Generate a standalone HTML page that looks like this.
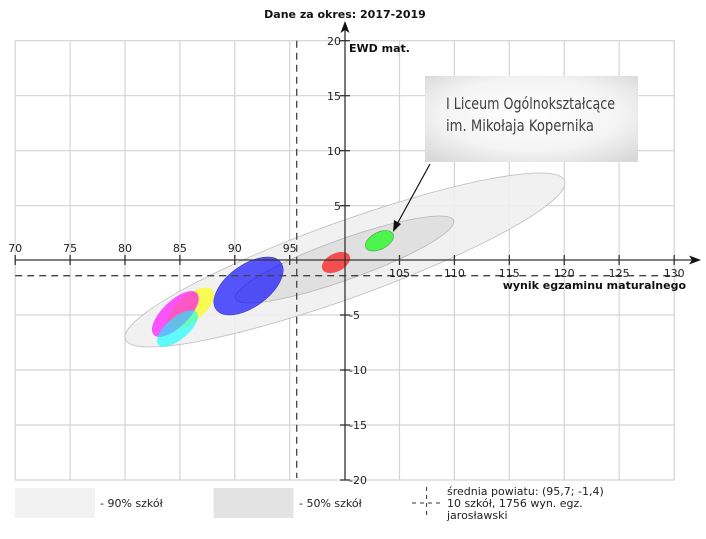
<!DOCTYPE html>
<html><head><meta charset="utf-8"><style>
html,body{margin:0;padding:0;background:#fff;width:706px;height:539px;overflow:hidden}
svg{display:block}
text{font-family:"DejaVu Sans","Liberation Sans",sans-serif}
</style></head><body>
<svg width="706" height="539" viewBox="0 0 706 539" xmlns="http://www.w3.org/2000/svg">
<defs>
<radialGradient id="bg" cx="50%" cy="45%" r="70%">
<stop offset="0" stop-color="#ffffff"/><stop offset="0.6" stop-color="#f4f4f4"/><stop offset="1" stop-color="#d8d8d8"/>
</radialGradient>
</defs>
<g stroke="#d4d4d4" stroke-width="1.2" fill="none">
<rect x="15.2" y="40.7" width="659" height="439.3"/>
<line x1="70.1" y1="40.7" x2="70.1" y2="480"/>
<line x1="125" y1="40.7" x2="125" y2="480"/>
<line x1="179.9" y1="40.7" x2="179.9" y2="480"/>
<line x1="234.8" y1="40.7" x2="234.8" y2="480"/>
<line x1="289.7" y1="40.7" x2="289.7" y2="480"/>
<line x1="399.5" y1="40.7" x2="399.5" y2="480"/>
<line x1="454.4" y1="40.7" x2="454.4" y2="480"/>
<line x1="509.3" y1="40.7" x2="509.3" y2="480"/>
<line x1="564.2" y1="40.7" x2="564.2" y2="480"/>
<line x1="619.1" y1="40.7" x2="619.1" y2="480"/>
<line x1="15.2" y1="95.7" x2="674.2" y2="95.7"/>
<line x1="15.2" y1="150.7" x2="674.2" y2="150.7"/>
<line x1="15.2" y1="205.7" x2="674.2" y2="205.7"/>
<line x1="15.2" y1="315" x2="674.2" y2="315"/>
<line x1="15.2" y1="370" x2="674.2" y2="370"/>
<line x1="15.2" y1="425" x2="674.2" y2="425"/>
</g>
<ellipse cx="345" cy="260" rx="233.5" ry="38" transform="rotate(-19.85 345 260)" fill="#f0f0f0" fill-opacity="0.9" stroke="#bdbdbd" stroke-width="0.8"/>
<ellipse cx="344.5" cy="259.5" rx="116" ry="20.2" transform="rotate(-19.7 344.5 259.5)" fill="#dcdcdc" fill-opacity="0.8" stroke="#b5b5b5" stroke-width="0.8"/>
<ellipse cx="248.5" cy="286" rx="40" ry="21" transform="rotate(-36 248.5 286)" fill="#0000ff" fill-opacity="0.65" stroke="#3333aa" stroke-width="0.5"/>
<ellipse cx="336" cy="262.5" rx="15.2" ry="9" transform="rotate(-27 336 262.5)" fill="#ff0000" fill-opacity="0.65"/>
<ellipse cx="379.5" cy="240.8" rx="15.2" ry="8.5" transform="rotate(-27 379.5 240.8)" fill="#00ff00" fill-opacity="0.65" stroke="#339933" stroke-width="0.5"/>
<ellipse cx="190.8" cy="308.3" rx="28.5" ry="13" transform="rotate(-40 190.8 308.3)" fill="#ffff00" fill-opacity="0.65"/>
<ellipse cx="175.3" cy="314" rx="30" ry="13" transform="rotate(-44 175.3 314)" fill="#ff00ff" fill-opacity="0.65"/>
<ellipse cx="177.5" cy="328.5" rx="25" ry="11" transform="rotate(-40 177.5 328.5)" fill="#00ffff" fill-opacity="0.6"/>
<g stroke="#444" stroke-width="1.3" stroke-dasharray="7,5" fill="none">
<line x1="296.7" y1="40.7" x2="296.7" y2="478"/>
<line x1="15.2" y1="275.7" x2="680" y2="275.7"/>
</g>
<g stroke="#333" stroke-width="1.3" fill="none">
<line x1="345" y1="28" x2="345" y2="480"/>
<line x1="15.2" y1="260" x2="692" y2="260"/>
<line x1="340" y1="40.7" x2="350" y2="40.7"/>
<line x1="340" y1="95.7" x2="350" y2="95.7"/>
<line x1="340" y1="150.7" x2="350" y2="150.7"/>
<line x1="340" y1="205.7" x2="350" y2="205.7"/>
<line x1="340" y1="315" x2="350" y2="315"/>
<line x1="340" y1="370" x2="350" y2="370"/>
<line x1="340" y1="425" x2="350" y2="425"/>
<line x1="340" y1="480" x2="350" y2="480"/>
<line x1="15.2" y1="255" x2="15.2" y2="265"/>
<line x1="70.1" y1="255" x2="70.1" y2="265"/>
<line x1="125" y1="255" x2="125" y2="265"/>
<line x1="179.9" y1="255" x2="179.9" y2="265"/>
<line x1="234.8" y1="255" x2="234.8" y2="265"/>
<line x1="289.7" y1="255" x2="289.7" y2="265"/>
<line x1="399.5" y1="255" x2="399.5" y2="265"/>
<line x1="454.4" y1="255" x2="454.4" y2="265"/>
<line x1="509.3" y1="255" x2="509.3" y2="265"/>
<line x1="564.2" y1="255" x2="564.2" y2="265"/>
<line x1="619.1" y1="255" x2="619.1" y2="265"/>
<line x1="674.2" y1="255" x2="674.2" y2="265"/>
</g>
<polygon points="345,21 340.5,33 345,30 349.5,33" fill="#111"/>
<polygon points="701,260 689,255.5 692,260 689,264.5" fill="#111"/>
<g font-size="11" fill="#222">
<text x="341" y="45" text-anchor="end">20</text>
<text x="341" y="100" text-anchor="end">15</text>
<text x="341" y="155" text-anchor="end">10</text>
<text x="341" y="210" text-anchor="end">5</text>
<text x="349" y="319">-5</text>
<text x="349" y="374">-10</text>
<text x="349" y="429">-15</text>
<text x="349" y="484">-20</text>
<text x="15.2" y="252" text-anchor="middle">70</text>
<text x="70.1" y="252" text-anchor="middle">75</text>
<text x="125" y="252" text-anchor="middle">80</text>
<text x="179.9" y="252" text-anchor="middle">85</text>
<text x="234.8" y="252" text-anchor="middle">90</text>
<text x="289.7" y="252" text-anchor="middle">95</text>
<text x="399.5" y="277" text-anchor="middle">105</text>
<text x="454.4" y="277" text-anchor="middle">110</text>
<text x="509.3" y="277" text-anchor="middle">115</text>
<text x="564.2" y="277" text-anchor="middle">120</text>
<text x="619.1" y="277" text-anchor="middle">125</text>
<text x="674.2" y="277" text-anchor="middle">130</text>
</g>
<g font-size="11" font-weight="bold" fill="#111">
<text x="345" y="18" text-anchor="middle">Dane za okres: 2017-2019</text>
<text x="349" y="52">EWD mat.</text>
<text x="686" y="289" text-anchor="end">wynik egzaminu maturalnego</text>
</g>
<rect x="425" y="76" width="213" height="86" fill="url(#bg)"/>
<g font-size="16" fill="#404040" style="font-family:'Liberation Sans Narrow','Liberation Sans',sans-serif">
<text x="446" y="109" textLength="169" lengthAdjust="spacingAndGlyphs">I Liceum Ogólnokształcące</text>
<text x="446" y="131" textLength="148" lengthAdjust="spacingAndGlyphs">im. Mikołaja Kopernika</text>
</g>
<line x1="430" y1="164" x2="396" y2="226" stroke="#111" stroke-width="1.2"/>
<polygon points="393,232 394,220 401,224" fill="#111"/>
<rect x="15" y="488" width="80" height="30" fill="#f2f2f2"/>
<rect x="213.5" y="488" width="80" height="30" fill="#e3e3e3"/>
<g font-size="11" fill="#222">
<text x="100" y="507">- 90% szkół</text>
<text x="299" y="507">- 50% szkół</text>
<text x="447" y="495">średnia powiatu: (95,7; -1,4)</text>
<text x="447" y="507">10 szkół, 1756 wyn. egz.</text>
<text x="447" y="519">jarosławski</text>
</g>
<g stroke="#333" stroke-width="1" stroke-dasharray="4,4">
<line x1="426.6" y1="487" x2="426.6" y2="519"/>
<line x1="412" y1="503" x2="442" y2="503"/>
</g>
</svg>
</body></html>
